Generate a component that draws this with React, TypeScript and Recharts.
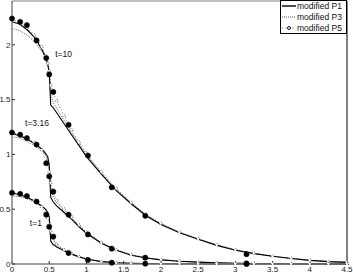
import React from 'react';
import { LineChart, Line, XAxis, YAxis, ReferenceDot, Legend } from 'recharts';

const X = [0, 0.1, 0.2, 0.3, 0.4, 0.45, 0.48, 0.5, 0.52, 0.55, 0.6, 0.7, 0.8, 0.9, 1.0, 1.2, 1.4, 1.6, 1.8, 2.0, 2.25, 2.5, 2.75, 3.0, 3.25, 3.5, 3.75, 4.0, 4.25, 4.5];

const T10_P1 = [2.21, 2.19, 2.14, 2.07, 1.96, 1.89, 1.82, 1.75, 1.45, 1.43, 1.38, 1.28, 1.18, 1.08, 0.98, 0.82, 0.67, 0.55, 0.44, 0.36, 0.285, 0.225, 0.17, 0.125, 0.095, 0.07, 0.05, 0.033, 0.022, 0.015];
const T10_P3 = [2.15, 2.13, 2.09, 2.03, 1.94, 1.88, 1.82, 1.76, 1.55, 1.48, 1.42, 1.31, 1.2, 1.1, 1.0, 0.83, 0.68, 0.56, 0.45, 0.37, 0.29, 0.23, 0.175, 0.13, 0.098, 0.072, 0.052, 0.035, 0.023, 0.015];
const T10_P5 = [2.23, 2.21, 2.16, 2.09, 1.98, 1.9, 1.83, 1.76, 1.63, 1.57, 1.49, 1.35, 1.22, 1.11, 1.01, 0.84, 0.69, 0.56, 0.45, 0.37, 0.29, 0.23, 0.175, 0.13, 0.097, 0.071, 0.051, 0.034, 0.022, 0.014];

const T3_P1 = [1.19, 1.17, 1.14, 1.1, 1.05, 1.01, 0.98, 0.9, 0.61, 0.57, 0.53, 0.47, 0.41, 0.34, 0.28, 0.19, 0.125, 0.08, 0.055, 0.038, 0.025, 0.017, 0.011, 0.007, 0.005, 0.003, 0.002, 0.001, 0.001, 0.0];
const T3_P3 = [1.16, 1.15, 1.12, 1.08, 1.03, 1.0, 0.97, 0.91, 0.7, 0.62, 0.56, 0.49, 0.42, 0.35, 0.29, 0.195, 0.13, 0.085, 0.057, 0.04, 0.026, 0.017, 0.011, 0.007, 0.005, 0.003, 0.002, 0.001, 0.001, 0.0];
const T3_P5 = [1.2, 1.18, 1.15, 1.11, 1.04, 0.98, 0.92, 0.84, 0.74, 0.66, 0.58, 0.5, 0.43, 0.355, 0.29, 0.195, 0.13, 0.085, 0.057, 0.039, 0.026, 0.017, 0.011, 0.007, 0.005, 0.003, 0.002, 0.001, 0.001, 0.0];

const T1_P1 = [0.645, 0.635, 0.61, 0.575, 0.53, 0.5, 0.47, 0.43, 0.21, 0.18, 0.155, 0.12, 0.09, 0.065, 0.045, 0.022, 0.011, 0.006, 0.003, 0.002, 0.001, 0.001, 0, 0, 0, 0, 0, 0, 0, 0];
const T1_P3 = [0.62, 0.615, 0.595, 0.565, 0.525, 0.5, 0.47, 0.44, 0.27, 0.22, 0.175, 0.13, 0.095, 0.068, 0.047, 0.023, 0.012, 0.006, 0.003, 0.002, 0.001, 0.001, 0, 0, 0, 0, 0, 0, 0, 0];
const T1_P5 = [0.65, 0.64, 0.615, 0.58, 0.52, 0.47, 0.42, 0.36, 0.3, 0.24, 0.18, 0.13, 0.095, 0.068, 0.046, 0.022, 0.011, 0.006, 0.003, 0.002, 0.001, 0.001, 0, 0, 0, 0, 0, 0, 0, 0];

const DOT_X = [0, 0.11, 0.2, 0.33, 0.46, 0.5, 0.555, 0.76, 1.02, 1.34, 1.79, 3.15];
const DOT_T10 = [2.24, 2.21, 2.18, 2.04, 1.88, 1.73, 1.57, 1.27, 0.99, 0.7, 0.44, 0.09];
const DOT_T3 = [1.2, 1.18, 1.15, 1.09, 0.92, 0.8, 0.66, 0.45, 0.27, 0.14, 0.058, 0.005];
const DOT_T1 = [0.65, 0.64, 0.62, 0.57, 0.45, 0.34, 0.25, 0.1, 0.037, 0.012, 0.003, 0.0];

const X_TICKS = [0, 0.5, 1, 1.5, 2, 2.5, 3, 3.5, 4, 4.5];
const Y_TICKS = [0, 0.5, 1, 1.5, 2];
const LEGEND_NAMES = ['modified P1', 'modified P3', 'modified P5'];
const CURVE_LABELS = [
  { text: 't=10', x: 0.58, y: 1.92 },
  { text: 't=3.16', x: 0.175, y: 1.29 },
  { text: 't=1', x: 0.24, y: 0.37 },
];

const pts = (xs: number[], ys: number[]) => xs.map((x, i) => ({ x, y: ys[i] }));

const FONT = '"Liberation Sans", Arial, Helvetica, sans-serif';
const AXIS_GRAY = '#808080';

const p1Props = { stroke: '#000', strokeWidth: 1.1, dot: false };
const p3Props = { stroke: '#333', strokeWidth: 0.8, strokeDasharray: '1 1.2', dot: false };
const p5Props = {
  stroke: '#444',
  strokeWidth: 0.7,
  strokeDasharray: '1 2',
  dot: { r: 1.4, fill: '#fff', stroke: '#333', strokeWidth: 0.8 },
};
const bigDot = { r: 2.6, fill: '#000', stroke: '#000', strokeWidth: 0.5 };

const LegendBox = () => (
  <svg width={67} height={34} style={{ display: 'block' }}>
    <rect x={0.5} y={0.5} width={66} height={33} fill="#fff" stroke="#000" strokeWidth={1} />
    {LEGEND_NAMES.map((name, i) => {
      const cy = 6 + i * 11;
      return (
        <g key={name}>
          {i === 0 && <line x1={2} x2={16} y1={cy} y2={cy} stroke="#000" strokeWidth={1.4} />}
          {i === 1 && <line x1={2} x2={16} y1={cy} y2={cy} stroke="#333" strokeWidth={0.8} strokeDasharray="1 1" />}
          {i === 2 && (
            <g>
              <line x1={2} x2={16} y1={cy} y2={cy} stroke="#444" strokeWidth={0.8} strokeDasharray="1 2.5" />
              <circle cx={9} cy={cy} r={1.5} fill="#fff" stroke="#000" strokeWidth={0.9} />
            </g>
          )}
          <text x={17} y={cy + 3} fontSize={8.5} fontFamily={FONT} fill="#111">
            {name}
          </text>
        </g>
      );
    })}
  </svg>
);

export default function App() {
  const tickStyle = { fontSize: 8, fontFamily: FONT, fill: '#222' };
  return (
    <div style={{ position: 'absolute', left: 0, top: 0, width: 353, height: 274, background: '#fff' }}>
      <LineChart width={353} height={274} margin={{ top: 0, right: 0, bottom: 0, left: 0 }}>
        <XAxis
          dataKey="x"
          type="number"
          domain={[0, 4.5]}
          ticks={X_TICKS}
          interval={0}
          height={10}
          tickSize={-3}
          tickMargin={5}
          tick={tickStyle}
          axisLine={{ stroke: AXIS_GRAY, strokeWidth: 1.5 }}
          tickLine={{ stroke: '#333' }}
        />
        <XAxis
          xAxisId="top"
          orientation="top"
          dataKey="x"
          type="number"
          domain={[0, 4.5]}
          ticks={X_TICKS}
          interval={0}
          height={1}
          tickSize={-3}
          tick={false}
          axisLine={{ stroke: AXIS_GRAY, strokeWidth: 1 }}
          tickLine={{ stroke: '#333' }}
        />
        <YAxis
          type="number"
          domain={[0, 2.4]}
          ticks={Y_TICKS}
          interval={0}
          width={12}
          tickSize={-3}
          tickMargin={4.5}
          tick={tickStyle}
          axisLine={{ stroke: AXIS_GRAY, strokeWidth: 1.5 }}
          tickLine={{ stroke: '#333' }}
        />
        <YAxis
          yAxisId="right"
          orientation="right"
          type="number"
          domain={[0, 2.4]}
          ticks={Y_TICKS}
          interval={0}
          width={6}
          tickSize={-3}
          tick={false}
          axisLine={{ stroke: AXIS_GRAY, strokeWidth: 2 }}
          tickLine={{ stroke: '#333' }}
        />

        <Line data={pts(X, T10_P3)} dataKey="y" name="t10 P3" legendType="none" isAnimationActive={false} {...p3Props} />
        <Line data={pts(X, T3_P3)} dataKey="y" name="t3 P3" legendType="none" isAnimationActive={false} {...p3Props} />
        <Line data={pts(X, T1_P3)} dataKey="y" name="t1 P3" legendType="none" isAnimationActive={false} {...p3Props} />

        <Line data={pts(X, T10_P5)} dataKey="y" name="t10 P5" legendType="none" isAnimationActive={false} {...p5Props} />
        <Line data={pts(X, T3_P5)} dataKey="y" name="t3 P5" legendType="none" isAnimationActive={false} {...p5Props} />
        <Line data={pts(X, T1_P5)} dataKey="y" name="t1 P5" legendType="none" isAnimationActive={false} {...p5Props} />

        <Line data={pts(X, T10_P1)} dataKey="y" name="t10 P1" legendType="none" isAnimationActive={false} {...p1Props} />
        <Line data={pts(X, T3_P1)} dataKey="y" name="t3 P1" legendType="none" isAnimationActive={false} {...p1Props} />
        <Line data={pts(X, T1_P1)} dataKey="y" name="t1 P1" legendType="none" isAnimationActive={false} {...p1Props} />

        <Line data={pts(DOT_X, DOT_T10)} dataKey="y" name="d10" stroke="none" legendType="none" isAnimationActive={false} dot={bigDot} />
        <Line data={pts(DOT_X, DOT_T3)} dataKey="y" name="d3" stroke="none" legendType="none" isAnimationActive={false} dot={bigDot} />
        <Line data={pts(DOT_X, DOT_T1)} dataKey="y" name="d1" stroke="none" legendType="none" isAnimationActive={false} dot={bigDot} />

        {CURVE_LABELS.map((l) => (
          <ReferenceDot
            key={l.text}
            x={l.x}
            y={l.y}
            r={0}
            stroke="none"
            fill="none"
            label={(props: any) => {
              const vb = props.viewBox || {};
              const cx = vb.cx !== undefined ? vb.cx : vb.x + (vb.width || 0) / 2;
              const cy = vb.cy !== undefined ? vb.cy : vb.y + (vb.height || 0) / 2;
              return (
                <text x={cx} y={cy + 3} fontSize={8.5} fontFamily={FONT} fill="#111" textAnchor="start">
                  {l.text}
                </text>
              );
            }}
          />
        ))}

        <Legend
          layout="horizontal"
          align="center"
          verticalAlign="middle"
          content={() => <LegendBox />}
          wrapperStyle={{ position: 'absolute', left: 280, top: 0, width: 67, height: 34 }}
        />
      </LineChart>
    </div>
  );
}
